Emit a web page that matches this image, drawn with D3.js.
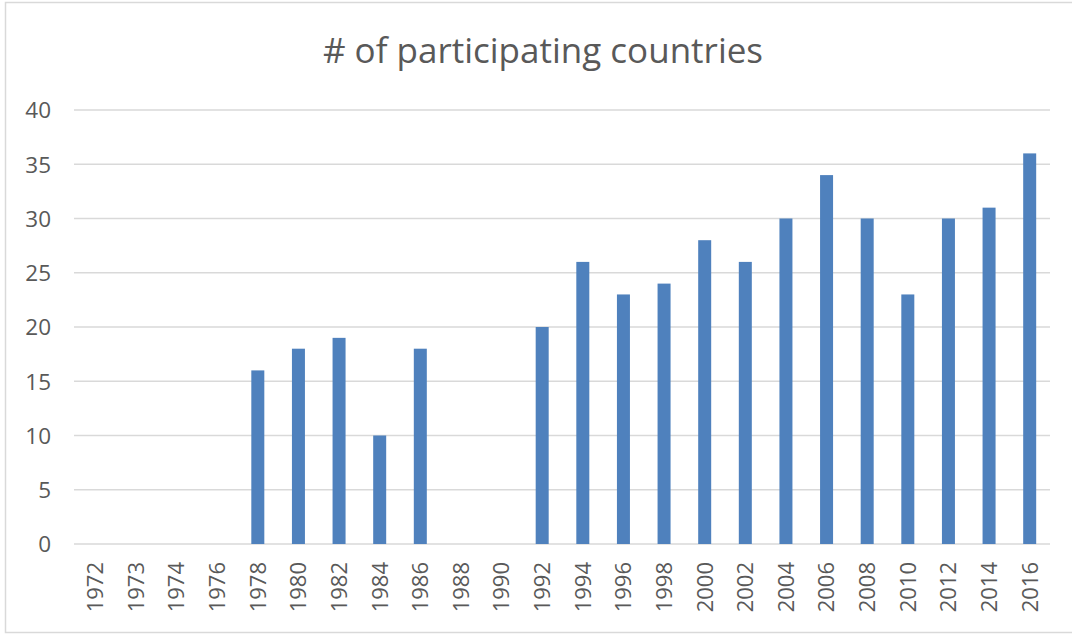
<!DOCTYPE html>
<html>
<head>
<meta charset="utf-8">
<script src="https://cdn.jsdelivr.net/npm/d3@7"></script>
<style>
  body { margin: 0; background: #fff; }
  text { font-family: "Open Sans", sans-serif; fill: #595959; }
</style>
</head>
<body>
<div id="chart-area"></div>
<script>
// Data
let years = ["1972", "1973", "1974", "1976", "1978", "1980", "1982", "1984", "1986", "1988",
  "1990", "1992", "1994", "1996", "1998", "2000", "2002", "2004", "2006", "2008",
  "2010", "2012", "2014", "2016"];
let countries = [0, 0, 0, 0, 16, 18, 19, 10, 18, 0,
  0, 20, 26, 23, 24, 28, 26, 30, 34, 30,
  23, 30, 31, 36];
let yTicks = [0, 5, 10, 15, 20, 25, 30, 35, 40];

let data = years.map((y, i) => ({ year: y, value: countries[i] }));

// SVG container
let margin = { top: 110, right: 22, bottom: 90, left: 75 };
let width = 1072 - margin.left - margin.right,
  height = 634 - margin.top - margin.bottom;

let root = d3
  .select("#chart-area")
  .append("svg")
  .attr("width", 1072)
  .attr("height", 634);

// chart frame
root
  .append("rect")
  .attr("x", 5.5)
  .attr("y", 2.5)
  .attr("width", 1080)
  .attr("height", 630)
  .attr("fill", "none")
  .attr("stroke", "#d9d9d9")
  .attr("stroke-width", 1.5);

root
  .append("text")
  .attr("x", 543)
  .attr("y", 63)
  .attr("text-anchor", "middle")
  .style("font-size", "35px")
  .text("# of participating countries");

let svg = root
  .append("g")
  .attr("transform", "translate(" + margin.left + "," + margin.top + ")");

// Scales
let x = d3
  .scaleBand()
  .domain(years)
  .range([0, width])
  .paddingInner(0.68)
  .paddingOuter(0.34);

let y = d3
  .scaleLinear()
  .domain([0, 40])
  .range([height, 0]);

// Gridlines
svg
  .append("g")
  .attr("class", "grid")
  .selectAll("line")
  .data(yTicks)
  .enter()
  .append("line")
  .attr("x1", -1)
  .attr("x2", width)
  .attr("y1", d => y(d))
  .attr("y2", d => y(d))
  .attr("stroke", "#d9d9d9")
  .attr("stroke-width", 1.3);

// Y axis
let yAxis = d3.axisLeft(y).tickValues(yTicks).tickSize(0).tickPadding(24);
svg
  .append("g")
  .attr("class", "axis y-axis")
  .call(yAxis)
  .call(g => g.select(".domain").remove())
  .selectAll("text")
  .style("font-size", "22.5px")
  .attr("dy", "0.35em");

// Bars
svg
  .selectAll("rect.bar")
  .data(data.filter(d => d.value > 0))
  .enter()
  .append("rect")
  .attr("class", "bar")
  .attr("x", d => x(d.year))
  .attr("y", d => y(d.value))
  .attr("width", x.bandwidth())
  .attr("height", d => height - y(d.value))
  .attr("fill", "#4f81bd");

// X axis
let xAxis = d3.axisBottom(x).tickSize(0).tickPadding(0);
svg
  .append("g")
  .attr("class", "axis x-axis")
  .attr("transform", "translate(0," + height + ")")
  .call(xAxis)
  .call(g => g.select(".domain").remove())
  .selectAll("text")
  .style("font-size", "22px")
  .attr("text-anchor", "end")
  .attr("transform", "rotate(-90)")
  .attr("x", -18)
  .attr("y", 0)
  .attr("dy", "0.36em");
</script>
</body>
</html>
